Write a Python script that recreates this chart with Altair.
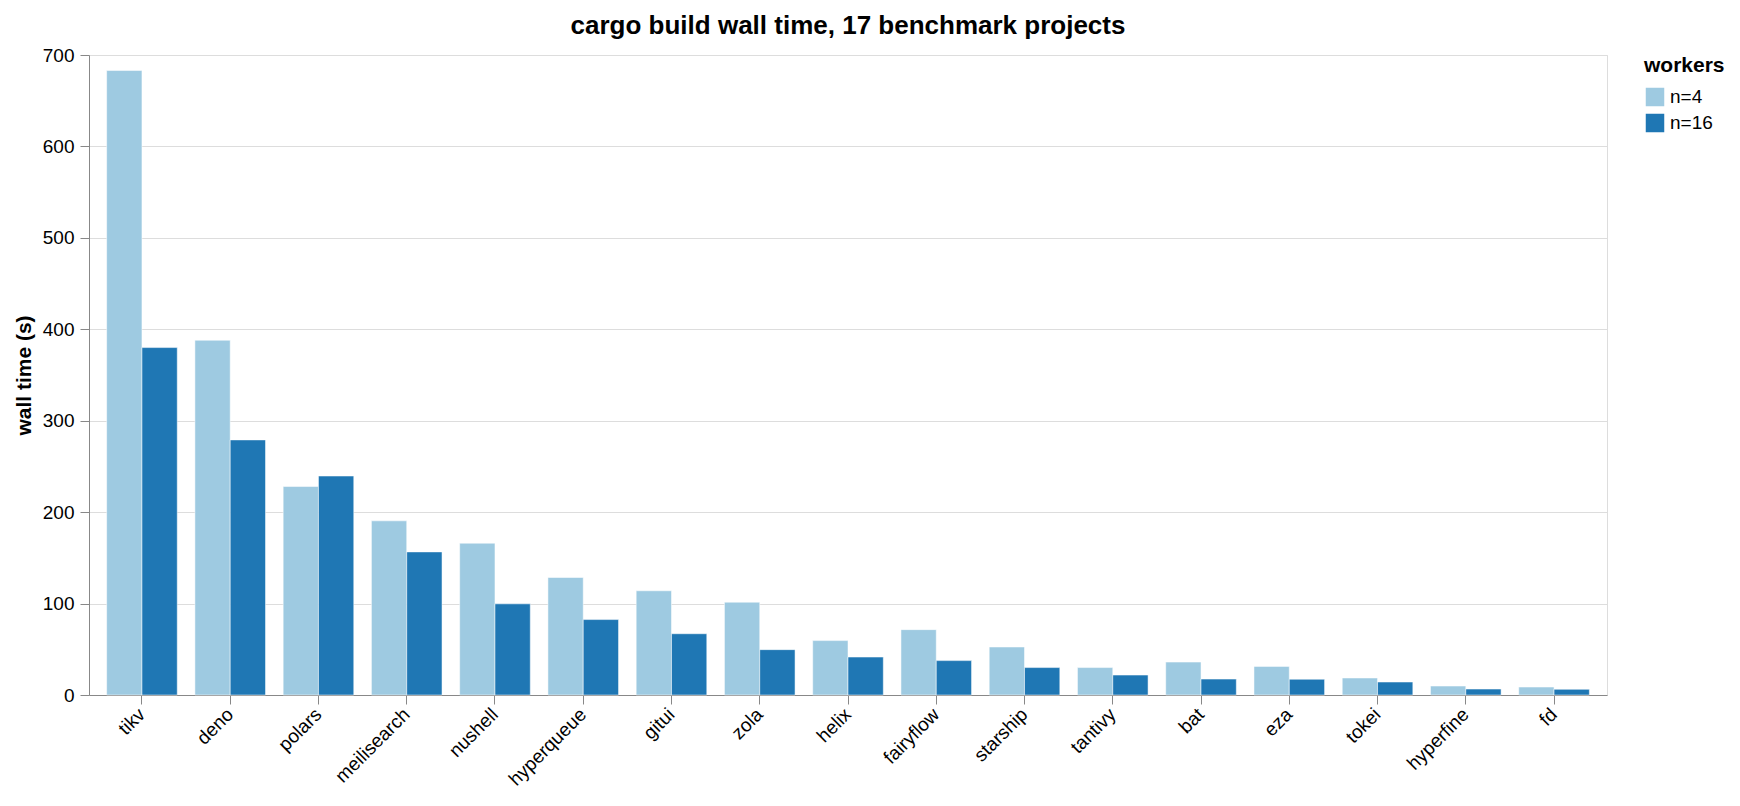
import pandas as pd
import altair as alt

# projects in the order shown, wall time in seconds for each worker count
projects = ["tikv", "deno", "polars", "meilisearch", "nushell", "hyperqueue", "gitui",
            "zola", "helix", "fairyflow", "starship", "tantivy", "bat", "eza", "tokei",
            "hyperfine", "fd"]
workers = ["n=4", "n=16"]
time_n4 = [683, 388, 228, 190.5, 166, 128.5, 114, 101.5, 59.5, 71.5, 52.5, 30, 36, 31.3, 18.6, 9.8, 8.7]
time_n16 = [380, 279, 239.5, 156.5, 99.7, 82.5, 67, 49.6, 41.5, 37.6, 30, 21.8, 17.4, 17.2, 14.2, 6.5, 6.2]

df = pd.DataFrame({
    "project": projects * 2,
    "workers": [workers[0]] * len(projects) + [workers[1]] * len(projects),
    "time": time_n4 + time_n16,
})

font = "Liberation Sans"

chart = alt.Chart(df).mark_bar(
    stroke="white", strokeWidth=1, strokeOpacity=0.5
).encode(
    x=alt.X("project:N", sort=projects, title=None,
            scale=alt.Scale(paddingInner=0.2, paddingOuter=0.2),
            axis=alt.Axis(labelAngle=-45, labelAlign="right", labelBaseline="middle",
                          labelPadding=7, tickSize=9)),
    xOffset=alt.XOffset("workers:N", sort=workers),
    y=alt.Y("time:Q", title="wall time (s)",
            scale=alt.Scale(domain=[0, 700]),
            axis=alt.Axis(values=[0, 100, 200, 300, 400, 500, 600, 700],
                          tickSize=9, labelPadding=6, titlePadding=8)),
    color=alt.Color("workers:N", sort=workers,
                    scale=alt.Scale(domain=workers, range=["#9ecae1", "#1f77b4"]),
                    legend=alt.Legend(title="workers", offset=37)),
    tooltip=["project", "workers", "time"],
).properties(
    width=1518,
    height=640,
    title="cargo build wall time, 17 benchmark projects",
).configure(
    font=font
).configure_axis(
    labelFontSize=19,
    titleFontSize=21,
    titleFontWeight="bold",
    labelColor="#000",
    titleColor="#000",
    gridColor="#dddddd",
).configure_title(
    fontSize=26,
    fontWeight="bold",
    anchor="middle",
    offset=7,
    color="#000",
).configure_legend(
    titleFontSize=21,
    labelFontSize=19,
    titleFontWeight="bold",
    titleColor="#000",
    labelColor="#000",
    titlePadding=10,
    rowPadding=0,
    symbolType="square",
    symbolSize=400,
).configure_view(
    stroke="#dddddd"
)

chart.save("out.html", embed_options={"renderer": "svg", "actions": False})
